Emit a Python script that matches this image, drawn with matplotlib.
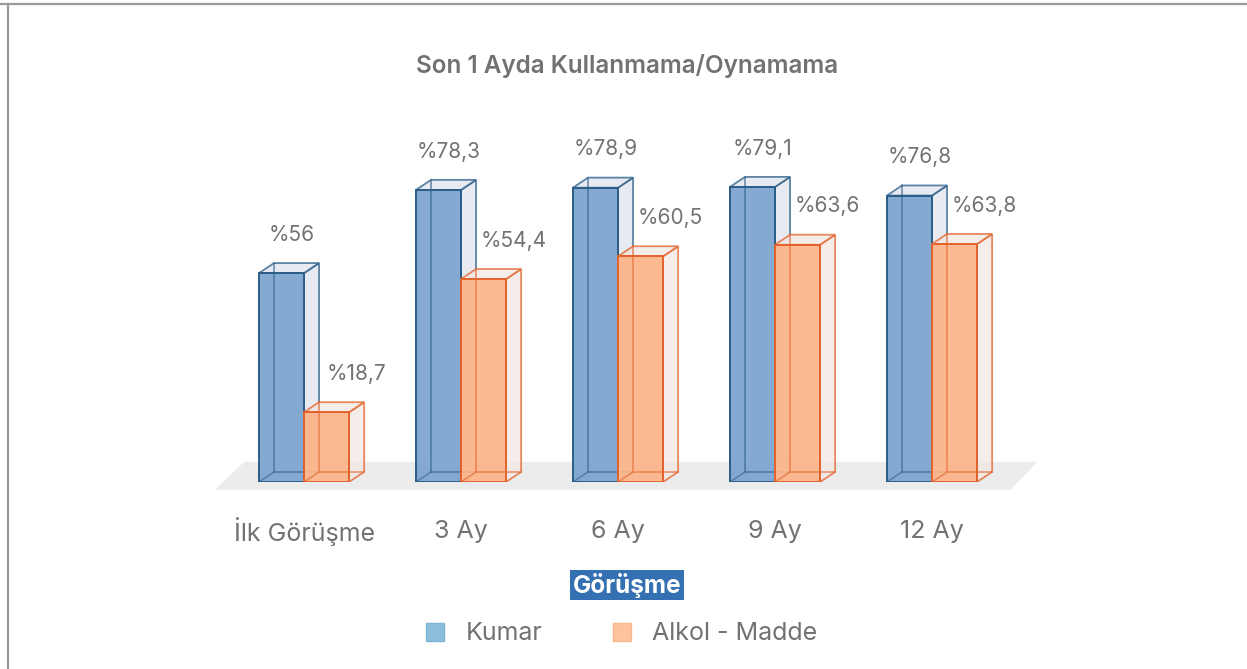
import numpy as np
import matplotlib
matplotlib.use("Agg")
import matplotlib.pyplot as plt
from matplotlib.patches import Polygon, Rectangle
from matplotlib.lines import Line2D

# ---------------------------------------------------------------------------
# Data
# ---------------------------------------------------------------------------
categories = ["İlk Görüşme", "3 Ay", "6 Ay", "9 Ay", "12 Ay"]
kumar = [56, 78.3, 78.9, 79.1, 76.8]
alkol = [18.7, 54.4, 60.5, 63.6, 63.8]
kumar_labels = ["%56", "%78,3", "%78,9", "%79,1", "%76,8"]
alkol_labels = ["%18,7", "%54,4", "%60,5", "%63,6", "%63,8"]
series_names = ["Kumar", "Alkol - Madde"]

TITLE = "Son 1 Ayda Kullanmama/Oynamama"
XTITLE = "Görüşme"

# ---------------------------------------------------------------------------
# Style
# ---------------------------------------------------------------------------
FONT = ["Inter", "DejaVu Sans"]
TXT = "#727272"

BLUE_FACE = "#7aa3cf"
BLUE_EDGE = "#2a5d88"
BLUE_SIDE = "#dfe4ec"
ORANGE_FACE = "#fdb388"
ORANGE_EDGE = "#e3632b"
ORANGE_SIDE = "#f2e7e3"

BAR_W = 0.287     # front face width (group spacing = 1)
DX = 0.096        # depth offset, x
DY = 2.7          # depth offset, y (value units)

fig = plt.figure(figsize=(12.47, 6.69), dpi=100, facecolor="white")

# frame lines (top and left edges of the original screenshot)
fig.add_artist(Line2D([0.0, 1.0], [1 - 3.5 / 669, 1 - 3.5 / 669],
                      transform=fig.transFigure, color="#9a9a9a", lw=1.6))
fig.add_artist(Line2D([7.5 / 1247, 7.5 / 1247], [0, 1 - 3.5 / 669],
                      transform=fig.transFigure, color="#9a9a9a", lw=1.6))

# axes: x px = 304 + 157*i, y px = 482 - 3.73*v
ax_l = (304 - 157 * 1.5) / 1247
ax_w = 157 * 7 / 1247
ax_b = (669 - 482) / 669
ax_h = 373 / 669
ax = fig.add_axes([ax_l, ax_b, ax_w, ax_h])
ax.set_xlim(-1.5, 5.5)
ax.set_ylim(0, 100)
ax.axis("off")

# floor
floor = Polygon([(-0.57, -2.1), (-0.38, 5.4), (4.67, 5.4), (4.50, -2.1)],
                closed=True, facecolor="#ececec", edgecolor="none", zorder=0,
                clip_on=False)
ax.add_patch(floor)


def bar3d(x0, h, face, edge, side, z):
    x1 = x0 + BAR_W
    # back edges (seen through the front)
    ax.plot([x0 + DX, x0 + DX, x1 + DX], [h + DY, DY, DY],
            color=edge, lw=1.2, alpha=0.9, zorder=z, solid_capstyle="butt")
    # right side and top
    right = Polygon([(x1, 0), (x1 + DX, DY), (x1 + DX, h + DY), (x1, h)],
                    facecolor=side, edgecolor=edge, lw=1.3, alpha=0.75,
                    zorder=z + 0.1)
    top = Polygon([(x0, h), (x0 + DX, h + DY), (x1 + DX, h + DY), (x1, h)],
                  facecolor=side, edgecolor=edge, lw=1.3, alpha=0.75,
                  zorder=z + 0.1)
    ax.add_patch(right)
    ax.add_patch(top)
    # front face
    ax.add_patch(Rectangle((x0, 0), BAR_W, h, facecolor=face, alpha=0.92,
                           edgecolor="none", zorder=z + 0.2))
    ax.add_patch(Rectangle((x0, 0), BAR_W, h, facecolor="none",
                           edgecolor=edge, lw=1.4, zorder=z + 0.3))
    # back edges again, faint, over front face
    ax.plot([x0 + DX, x0 + DX, x1 + DX], [h + DY, DY, DY],
            color=edge, lw=1.1, alpha=0.55, zorder=z + 0.25)
    ax.plot([x0, x0 + DX], [0, DY], color=edge, lw=1.1, alpha=0.55,
            zorder=z + 0.25)


x = np.arange(len(categories))
for i in range(len(categories)):
    bar3d(x[i] - BAR_W, kumar[i], BLUE_FACE, BLUE_EDGE, BLUE_SIDE, 2 + i)
    bar3d(x[i], alkol[i], ORANGE_FACE, ORANGE_EDGE, ORANGE_SIDE, 2.5 + i)

    ax.text(x[i] - BAR_W / 2 + 0.065, kumar[i] + 10.3, kumar_labels[i],
            ha="center", va="center", fontsize=15, color=TXT, family=FONT,
            zorder=20)
    ax.text(x[i] + BAR_W / 2 + 0.19, alkol[i] + 10.3, alkol_labels[i],
            ha="center", va="center", fontsize=15, color=TXT, family=FONT,
            zorder=20)

    ax.text(x[i], -13.3, categories[i], ha="center", va="center",
            fontsize=18, color=TXT, family=FONT, clip_on=False)

# title
fig.text(627 / 1247, 1 - 66 / 669, TITLE, ha="center", va="center",
         fontsize=17.5, fontweight="semibold", color=TXT, family=FONT)

# x-axis title in a blue box
fig.text(627 / 1247, 1 - 585 / 669, XTITLE, ha="center", va="center",
         fontsize=17.5, fontweight="bold", color="white", family=FONT,
         bbox=dict(boxstyle="square,pad=0.12", facecolor="#3470b2",
                   edgecolor="none"))

# legend
handles = [
    Line2D([0], [0], marker="s", color="none", markerfacecolor="#8bbfdc",
           markeredgecolor="#7fb3d3", markersize=13, label=series_names[0]),
    Line2D([0], [0], marker="s", color="none", markerfacecolor="#fdc39a",
           markeredgecolor="#f7b88d", markersize=13, label=series_names[1]),
]
leg = fig.legend(handles=handles, loc="center", ncol=2,
                 bbox_to_anchor=(620 / 1247, 1 - 634 / 669),
                 frameon=False, handlelength=1.0, handletextpad=0.7,
                 columnspacing=2.7, borderaxespad=0, borderpad=0,
                 prop={"family": FONT, "size": 18})
for t in leg.get_texts():
    t.set_color(TXT)

fig.savefig("out.png", dpi=100, facecolor="white")
